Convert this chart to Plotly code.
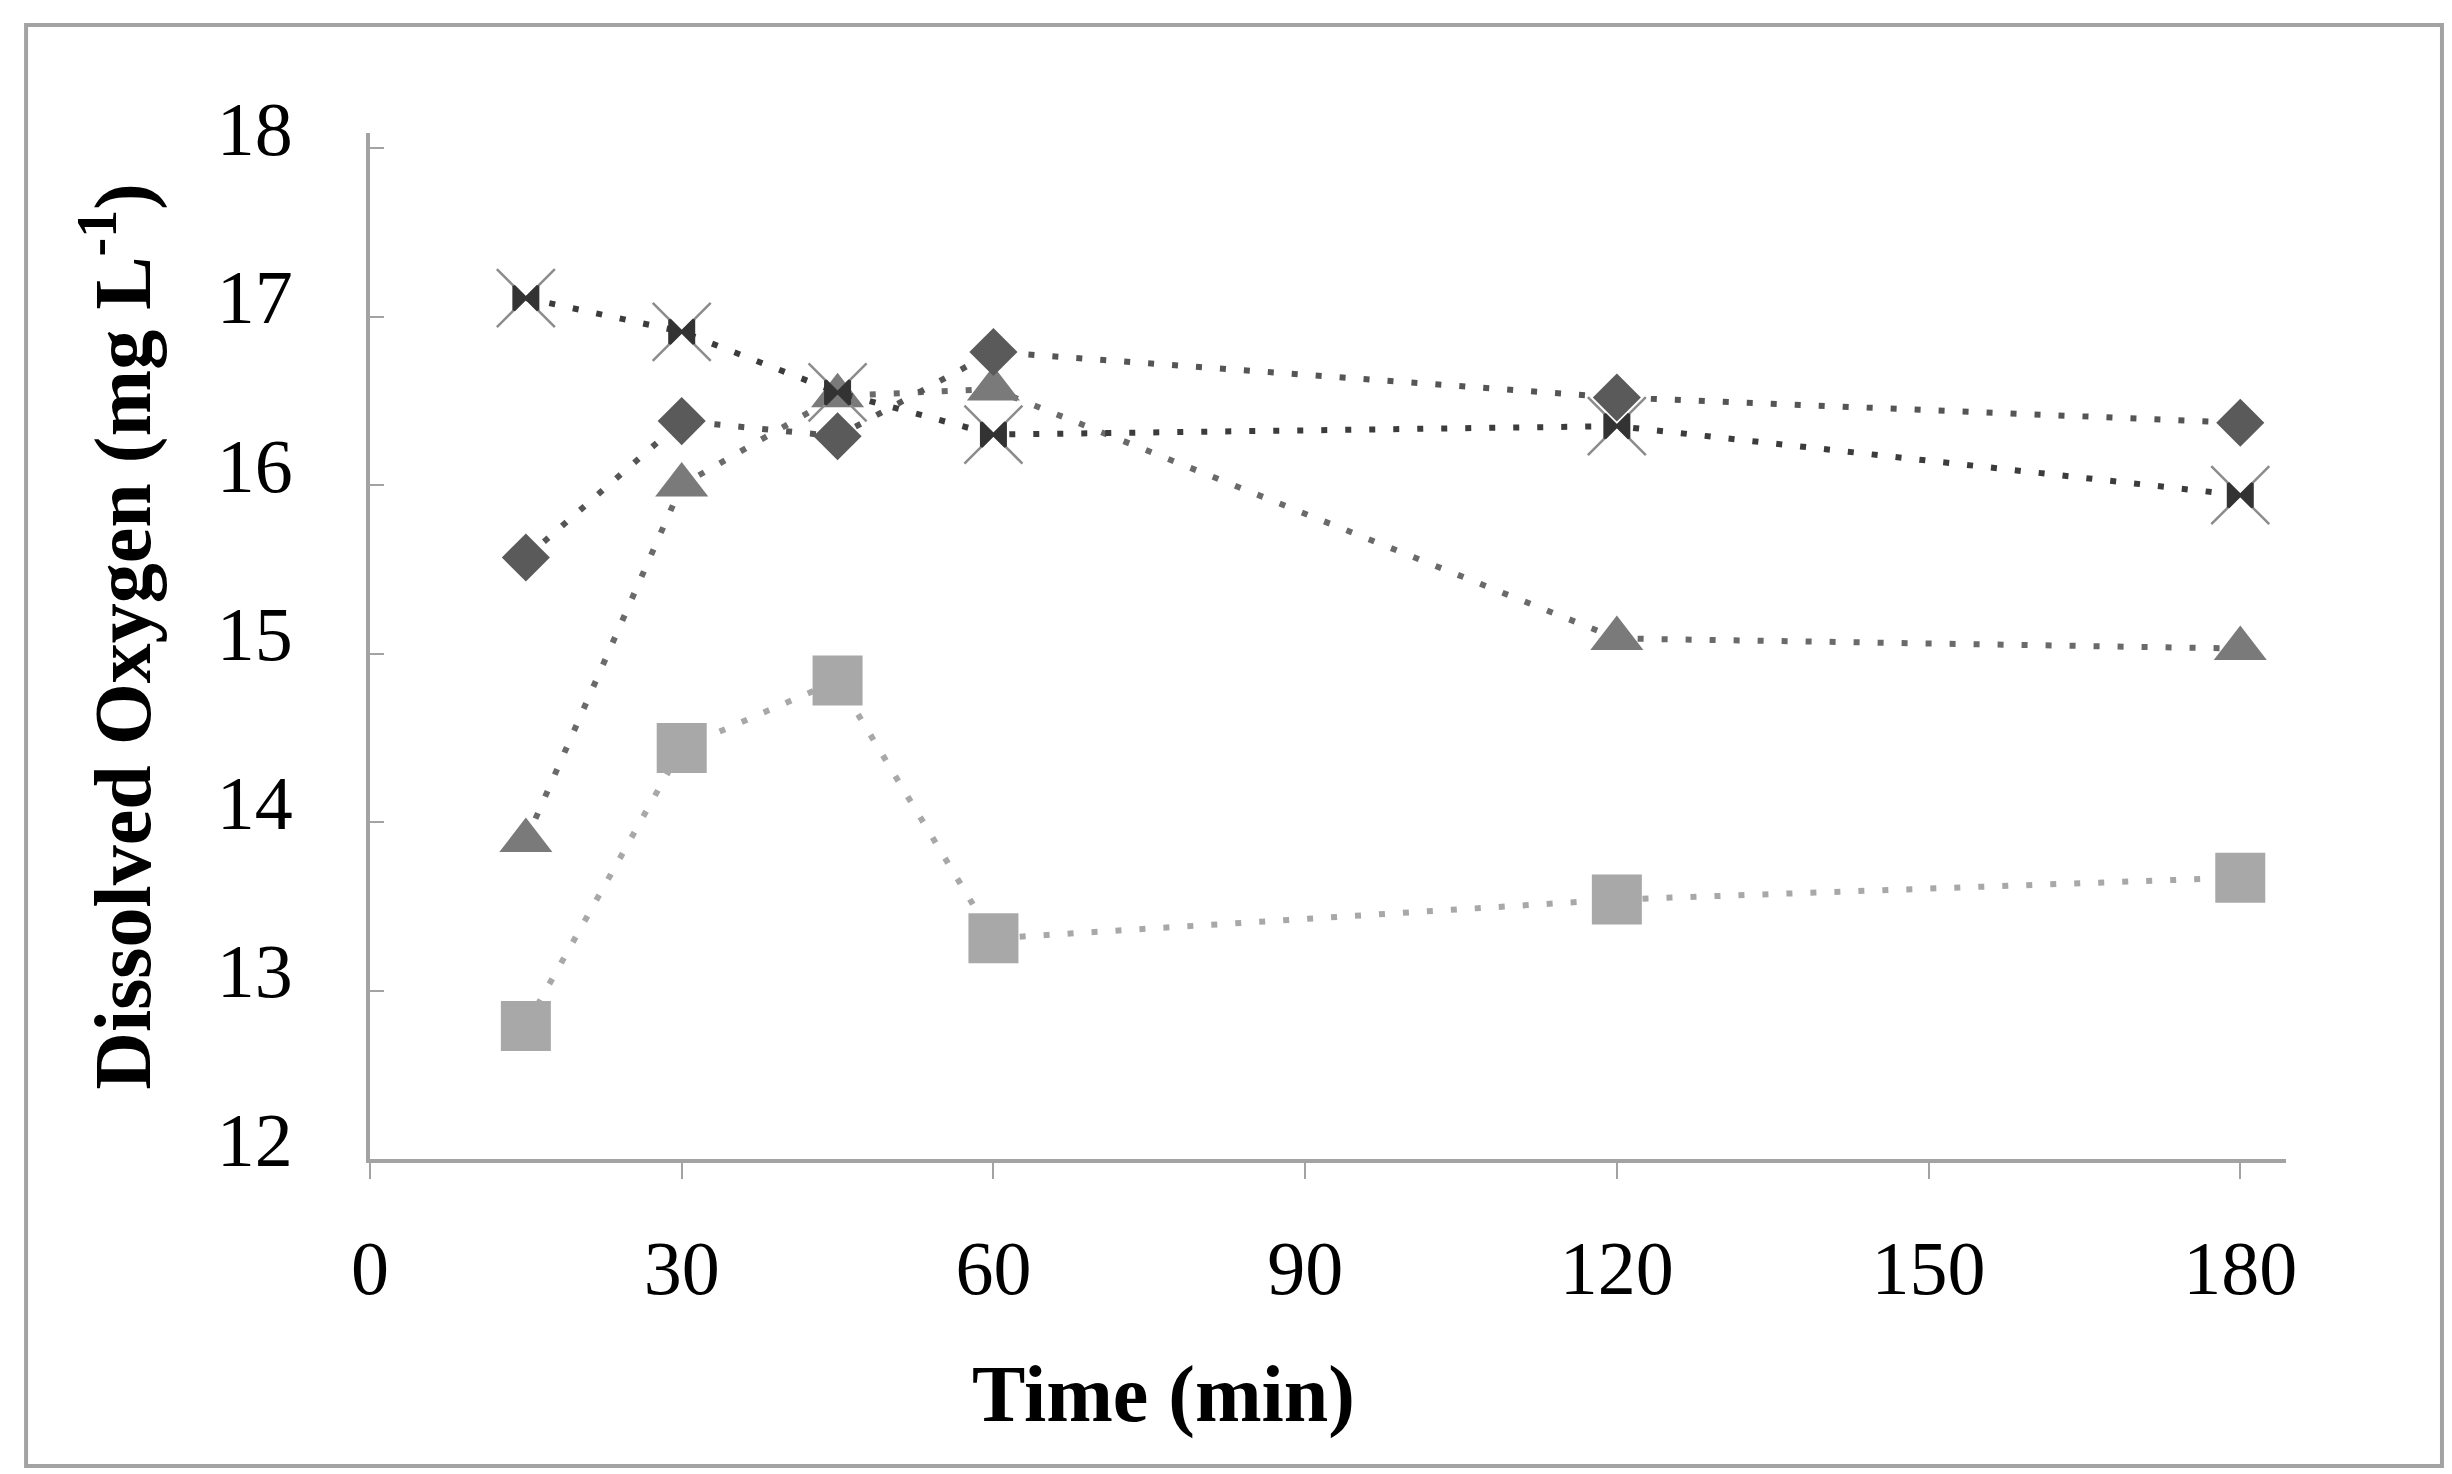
import plotly.graph_objects as go

time_min = [15, 30, 45, 60, 120, 180]

do_diamond = [15.57, 16.38, 16.29, 16.79, 16.52, 16.37]
do_square = [12.79, 14.44, 14.84, 13.31, 13.54, 13.67]
do_triangle = [13.89, 16.0, 16.53, 16.57, 15.09, 15.03]
do_cross = [17.11, 16.91, 16.55, 16.3, 16.35, 15.94]

x_ticks = [0, 30, 60, 90, 120, 150, 180]
y_ticks = [12, 13, 14, 15, 16, 17, 18]

FONT = "Liberation Serif"
AXIS_GREY = "#a3a3a3"


def add_series(fig, y, name, symbol, size, color, line_color, marker_line=None):
    marker = dict(symbol=symbol, size=size, color=color)
    if marker_line:
        marker["line"] = marker_line
    fig.add_trace(
        go.Scatter(
            x=time_min,
            y=y,
            name=name,
            mode="lines+markers",
            line=dict(color=line_color, width=6, dash="6px,18px"),
            marker=marker,
            showlegend=False,
        )
    )


def main():
    fig = go.Figure()

    add_series(fig, do_square, "Series 2", "square", 50, "#a8a8a8", "#a8a8a8")
    add_series(fig, do_triangle, "Series 3", "triangle-up", 46, "#7a7a7a", "#6a6a6a")
    add_series(
        fig, do_cross, "Series 4", "x-thin", 58, "#8c8c8c", "#3c3c3c",
        marker_line=dict(color="#8c8c8c", width=2.5),
    )
    # dark centre of the cross marker, as in the original
    fig.add_trace(
        go.Scatter(
            x=time_min,
            y=do_cross,
            mode="markers",
            marker=dict(symbol="bowtie", size=24, color="#333333",
                        line=dict(color="#333333", width=3)),
            showlegend=False,
            hoverinfo="skip",
        )
    )
    add_series(fig, do_diamond, "Series 1", "diamond", 37, "#5a5a5a", "#555555")

    fig.update_layout(
        width=2452,
        height=1474,
        margin=dict(l=362, r=174, t=125, b=323),
        paper_bgcolor="white",
        plot_bgcolor="white",
        font=dict(family=FONT, color="black"),
    )

    fig.update_xaxes(
        range=[0, 184.4],
        tickvals=x_ticks,
        showline=True,
        linecolor=AXIS_GREY,
        linewidth=4,
        showgrid=False,
        zeroline=False,
        ticks="outside",
        ticklen=16,
        tickwidth=2,
        tickcolor=AXIS_GREY,
        tickfont=dict(family=FONT, size=76, color="black"),
        ticklabelstandoff=24,
    )
    fig.update_yaxes(
        range=[12, 18.09],
        tickvals=y_ticks,
        showline=True,
        linecolor=AXIS_GREY,
        linewidth=4,
        showgrid=False,
        zeroline=False,
        ticks="inside",
        ticklen=14,
        tickwidth=2,
        tickcolor=AXIS_GREY,
        tickfont=dict(family=FONT, size=76, color="black"),
        ticklabelstandoff=58,
        ticklabelshift=-20,
    )

    # axis titles placed like the original, title of x sits left of centre
    fig.add_annotation(
        text="<b>Time (min)</b>",
        xref="paper", yref="paper", x=0.414, y=-0.23,
        showarrow=False, xanchor="center", yanchor="middle",
        font=dict(family=FONT, size=80, color="black"),
    )
    fig.add_annotation(
        text="<b>Dissolved Oxygen (mg L<sup>-1</sup>)</b>",
        xref="paper", yref="paper", x=-0.132, y=0.509,
        showarrow=False, xanchor="center", yanchor="middle", textangle=-90,
        font=dict(family=FONT, size=80, color="black"),
    )

    # outer chart frame
    fig.add_shape(
        type="rect", xref="paper", yref="paper",
        x0=-0.1795, x1=1.0814, y0=-0.2992, y1=1.1053,
        line=dict(color=AXIS_GREY, width=4),
    )

    fig.write_html("out.html")


if __name__ == "__main__":
    main()
